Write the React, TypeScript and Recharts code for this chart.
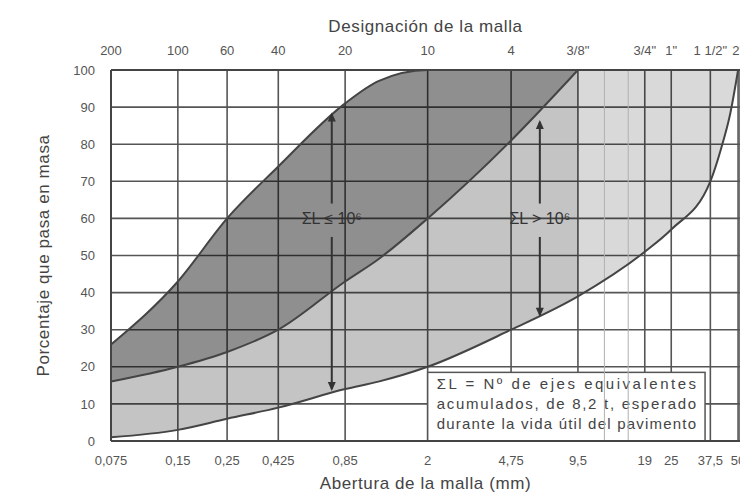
import React from "react";
import {
  Area,
  CartesianGrid,
  ComposedChart,
  Label,
  Line,
  ReferenceArea,
  ReferenceDot,
  ReferenceLine,
  XAxis,
  YAxis,
} from "recharts";

// sieve openings (mm) and their two label rows
const sieveMm = [0.075, 0.15, 0.25, 0.425, 0.85, 2, 4.75, 9.5, 19, 25, 37.5, 50];
const openingLabels = ["0,075", "0,15", "0,25", "0,425", "0,85", "2", "4,75", "9,5", "19", "25", "37,5", "50"];
const meshLabels = ["200", "100", "60", "40", "20", "10", "4", '3/8"', '3/4"', '1"', '1 1/2"', '2"'];
const minorSieves = [12.5, 16];
const percentTicks = [0, 10, 20, 30, 40, 50, 60, 70, 80, 90, 100];

// gradation envelopes (% passing)
const curveMm = [0.075, 0.15, 0.25, 0.425, 0.85, 1.2, 2, 4.75, 9.5, 19, 25, 37.5, 42, 46, 50];
const fineLimit = [26, 43, 60, 74, 91, 97, 100, 100, 100, 100, 100, 100, 100, 100, 100];
const middleLimit = [16, 20, 24, 30, 43, 49, 60, 81, 100, null, null, null, null, null, null];
const coarseLimit = [1, 3, 6, 9, 14, 16, 20, 30, 39, 51, 57, 70, 79, 88, 100];
// top of the coarse band once the middle curve has reached 100 %
const coarseCeiling = [null, null, null, null, null, null, null, null, 100, 100, 100, 100, 100, 100, 100];

// traffic arrows: x in mm, ends in %
const arrows = [
  { x: 0.74, top: 88, gapTop: 64, gapBottom: 55, bottom: 14, text: "ΣL ≤ 10⁶" },
  { x: 6.4, top: 86, gapTop: 64, gapBottom: 55, bottom: 34, text: "ΣL > 10⁶" },
];

const noteLines = [
  "ΣL = Nº de ejes equivalentes",
  "acumulados, de 8,2 t, esperado",
  "durante la vida útil del pavimento",
];

const rows = curveMm.map((x, i) => ({
  x,
  fine: fineLimit[i],
  middle: middleLimit[i],
  coarse: coarseLimit[i],
  ceiling: coarseCeiling[i],
}));

const FONT = "'Liberation Sans', Arial, sans-serif";
const GRID = "#555";

const headUp = (p: any) => (
  <path d={`M${p.cx},${p.cy - 2} l-4,9 l8,0 z`} fill="#333" />
);
const headDown = (p: any) => (
  <path d={`M${p.cx},${p.cy + 2} l-4,-9 l8,0 z`} fill="#333" />
);

const arrowText = (text: string) => (p: any) => (
  <text
    x={p.cx}
    y={p.cy}
    textAnchor="middle"
    dominantBaseline="middle"
    fontSize={16}
    fontFamily={FONT}
    fill="#333"
  >
    {text}
  </text>
);

const NoteBox = (p: any) => {
  const pad = 9;
  return (
    <g>
      <rect x={p.x} y={p.y} width={p.width} height={p.height} fill="#fff" stroke={GRID} strokeWidth={1.5} />
      {noteLines.map((line, i) => (
        <text
          key={i}
          x={p.x + pad}
          y={p.y + 17 + i * 20}
          fontSize={15}
          fontFamily={FONT}
          fill="#444"
          textLength={p.width - pad * 2}
          lengthAdjust="spacing"
        >
          {line}
        </text>
      ))}
    </g>
  );
};

export default function App() {
  return (
    <div style={{ width: 740, height: 496, background: "#fff", overflow: "hidden", fontFamily: FONT }}>
      <style>{"body{margin:0}"}</style>
      <ComposedChart width={740} height={496} data={rows} margin={{ top: 40, right: 0, bottom: 25, left: 55 }}>
        <CartesianGrid xAxisId="bottom" stroke={GRID} strokeWidth={1.6} />
        <XAxis
          xAxisId="bottom"
          dataKey="x"
          type="number"
          scale="log"
          domain={[0.075, 51]}
          allowDataOverflow
          ticks={sieveMm}
          interval={0}
          tickFormatter={(v: number) => openingLabels[sieveMm.indexOf(v)]}
          tick={{ fontSize: 13, fill: "#555" }}
          tickSize={0}
          tickMargin={15}
          axisLine={{ stroke: "#444", strokeWidth: 2 }}
          height={30}
        >
          <Label value="Abertura de la malla (mm)" position="bottom" offset={6} fontSize={17} letterSpacing={0.6} fill="#444" />
        </XAxis>
        <XAxis
          xAxisId="top"
          orientation="top"
          dataKey="x"
          type="number"
          scale="log"
          domain={[0.075, 51]}
          allowDataOverflow
          ticks={sieveMm}
          interval={0}
          tickFormatter={(v: number) => meshLabels[sieveMm.indexOf(v)]}
          tick={{ fontSize: 13, fill: "#555" }}
          tickSize={0}
          tickMargin={15}
          axisLine={{ stroke: "#444", strokeWidth: 2 }}
          height={30}
        >
          <Label value="Designación de la malla" position="top" offset={8} fontSize={17} letterSpacing={0.6} fill="#444" />
        </XAxis>
        <YAxis
          type="number"
          domain={[0, 100]}
          ticks={percentTicks}
          interval={0}
          tick={{ fontSize: 13, fill: "#555" }}
          tickSize={0}
          tickMargin={16}
          axisLine={{ stroke: "#444", strokeWidth: 2 }}
          width={56}
        >
          <Label value="Porcentaje que pasa en masa" position="center" angle={-90} dx={-40} fontSize={17} letterSpacing={0.6} fill="#444" />
        </YAxis>

        {minorSieves.map((m) => (
          <ReferenceLine key={m} xAxisId="bottom" x={m} stroke="#b0b0b0" strokeWidth={1} />
        ))}

        <Area
          xAxisId="bottom"
          type="monotone"
          dataKey={(d: any) => (d.ceiling == null ? null : [d.coarse, d.ceiling])}
          fill="#000"
          fillOpacity={0.15}
          stroke="none"
          isAnimationActive={false}
        />
        <Area
          xAxisId="bottom"
          type="monotone"
          dataKey={(d: any) => (d.middle == null ? null : [d.coarse, d.middle])}
          fill="#000"
          fillOpacity={0.23}
          stroke="none"
          isAnimationActive={false}
        />
        <Area
          xAxisId="bottom"
          type="monotone"
          dataKey={(d: any) => (d.middle == null ? null : [d.middle, d.fine])}
          fill="#000"
          fillOpacity={0.44}
          stroke="none"
          isAnimationActive={false}
        />
        <Line xAxisId="bottom" type="monotone" dataKey="fine" stroke="#444" strokeWidth={2} dot={false} isAnimationActive={false} />
        <Line xAxisId="bottom" type="monotone" dataKey="middle" stroke="#444" strokeWidth={2} dot={false} isAnimationActive={false} />
        <Line xAxisId="bottom" type="monotone" dataKey="coarse" stroke="#444" strokeWidth={2} dot={false} isAnimationActive={false} />

        {arrows.map((a) => (
          <ReferenceLine
            key={a.text + "t"}
            xAxisId="bottom"
            segment={[{ x: a.x, y: a.top }, { x: a.x, y: a.gapTop }]}
            stroke="#333"
            strokeWidth={2}
          />
        ))}
        {arrows.map((a) => (
          <ReferenceLine
            key={a.text + "b"}
            xAxisId="bottom"
            segment={[{ x: a.x, y: a.gapBottom }, { x: a.x, y: a.bottom }]}
            stroke="#333"
            strokeWidth={2}
          />
        ))}
        {arrows.map((a) => (
          <ReferenceDot key={a.text + "u"} xAxisId="bottom" x={a.x} y={a.top} r={4} shape={headUp} />
        ))}
        {arrows.map((a) => (
          <ReferenceDot key={a.text + "d"} xAxisId="bottom" x={a.x} y={a.bottom} r={4} shape={headDown} />
        ))}
        {arrows.map((a) => (
          <ReferenceDot
            key={a.text + "l"}
            xAxisId="bottom"
            x={a.x}
            y={(a.gapTop + a.gapBottom) / 2}
            r={1}
            shape={arrowText(a.text)}
          />
        ))}

        <ReferenceArea xAxisId="bottom" x1={2} x2={35.5} y1={0} y2={18.5} shape={NoteBox} />
      </ComposedChart>
    </div>
  );
}
